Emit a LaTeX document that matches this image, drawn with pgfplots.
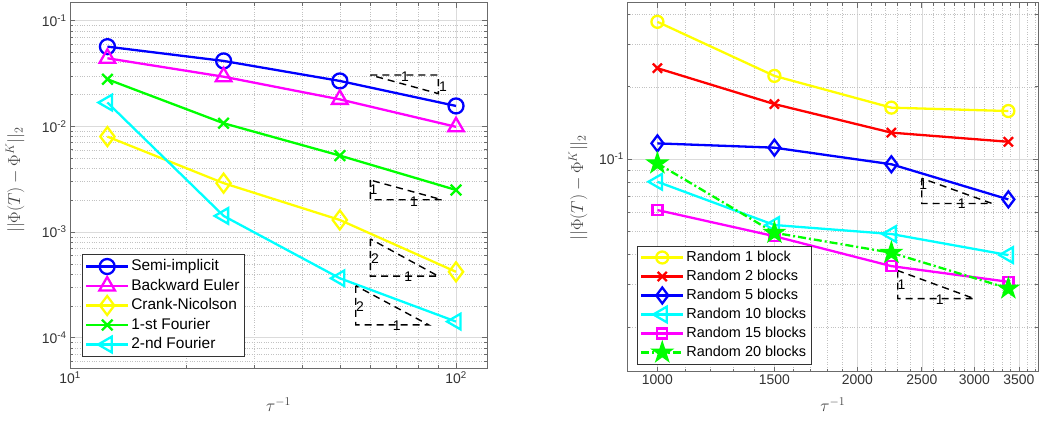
\documentclass[border=0pt]{standalone}
\usepackage{fontspec}
\setmainfont{Liberation Sans}
\usepackage{pgfplots}
\pgfplotsset{compat=1.18}
\usetikzlibrary{plotmarks}

\pgfdeclareplotmark{pstar}{%
  \pgfpathmoveto{\pgfqpointpolar{90}{\pgfplotmarksize}}%
  \pgfpathlineto{\pgfqpointpolar{126}{0.382\pgfplotmarksize}}%
  \pgfpathlineto{\pgfqpointpolar{162}{\pgfplotmarksize}}%
  \pgfpathlineto{\pgfqpointpolar{198}{0.382\pgfplotmarksize}}%
  \pgfpathlineto{\pgfqpointpolar{234}{\pgfplotmarksize}}%
  \pgfpathlineto{\pgfqpointpolar{270}{0.382\pgfplotmarksize}}%
  \pgfpathlineto{\pgfqpointpolar{306}{\pgfplotmarksize}}%
  \pgfpathlineto{\pgfqpointpolar{342}{0.382\pgfplotmarksize}}%
  \pgfpathlineto{\pgfqpointpolar{18}{\pgfplotmarksize}}%
  \pgfpathlineto{\pgfqpointpolar{54}{0.382\pgfplotmarksize}}%
  \pgfpathclose
  \pgfusepathqfillstroke}

\definecolor{mblue}{rgb}{0,0,1}
\definecolor{mmag}{rgb}{1,0,1}
\definecolor{myel}{rgb}{1,1,0}
\definecolor{mgreen}{rgb}{0,1,0}
\definecolor{mcyan}{rgb}{0,1,1}
\definecolor{mred}{rgb}{1,0,0}

\tikzset{
  triline/.style={black, line width=1.4bp, dash pattern=on 7bp off 5bp},
  slopelab/.style={font=\fontsize{14}{16}\selectfont, text=black, inner sep=0pt},
  biglab/.style={font=\fontsize{17}{20}\selectfont, text=black!75},
}
\pgfplotsset{
  every axis/.append style={
    scale only axis, grid=both,
    major grid style={black!14, line width=0.5bp},
    minor grid style={black!24, dotted, line width=0.5bp},
    axis line style={black!58, line width=0.7bp},
    major tick length=5bp, minor tick length=3bp,
    tick label style={font=\fontsize{14}{16}\selectfont, text=black!80},
    legend cell align=left,
  },
  every tick/.append style={black!58, line width=0.6bp},
  legend image code/.code={\draw[mark repeat=2,mark phase=2] plot coordinates {(0bp,0bp) (21bp,0bp) (42bp,0bp)};},
}

\begin{document}
\begin{tikzpicture}
\useasboundingbox (0,0) rectangle (1040bp,421bp);

% ---------------- left axis ----------------
\begin{loglogaxis}[
  at={(70bp,52.7bp)}, anchor=south west, width=417bp, height=365.6bp,
  xmin=10, xmax=120.3, ymin=5.13e-5, ymax=0.148,
  xtick={10,100}, xticklabels={10\textsuperscript{1},10\textsuperscript{2}},
  minor xtick={20,30,40,50,60,70,80,90},
  ytick={1e-4,1e-3,1e-2,1e-1},
  yticklabels={10\textsuperscript{-4},10\textsuperscript{-3},10\textsuperscript{-2},10\textsuperscript{-1}},
  minor ytick={6e-5,7e-5,8e-5,9e-5,2e-4,3e-4,4e-4,5e-4,6e-4,7e-4,8e-4,9e-4,2e-3,3e-3,4e-3,5e-3,6e-3,7e-3,8e-3,9e-3,2e-2,3e-2,4e-2,5e-2,6e-2,7e-2,8e-2,9e-2},
  xlabel={$\tau^{-1}$}, ylabel={$||\Phi(T)-\Phi^K||_2$},
  xlabel style={biglab, at={(axis description cs:0.5,-0.1)}, anchor=center},
  ylabel style={biglab, at={(axis description cs:-0.132,0.515)}, anchor=center},
  legend style={at={(0.028,0.032)}, anchor=south west, draw=black!80, line width=0.7bp, fill=white,
    font=\fontsize{15.5}{17}\selectfont, row sep=0pt,
    nodes={inner sep=2bp, text height=12bp, text depth=3.5bp}},
]
\addplot[line width=2.3bp, mblue, mark=o, mark size=7.5bp] coordinates {(12.5,0.0568) (25,0.0416) (50,0.0269) (100,0.0156)};
\addlegendentry{Semi-implicit}
\addplot[line width=2.3bp, mmag, mark=triangle, mark size=9bp] coordinates {(12.5,0.0441) (25,0.0295) (50,0.0180) (100,0.0099)};
\addlegendentry{Backward Euler}
\addplot[line width=2.3bp, myel, mark=diamond, mark size=9.5bp] coordinates {(12.5,0.0080) (25,0.0029) (50,0.0013) (100,0.00042)};
\addlegendentry{Crank-Nicolson}
\addplot[line width=2.3bp, mgreen, mark=x, mark size=7.5bp] coordinates {(12.5,0.0279) (25,0.0107) (50,0.00529) (100,0.0025)};
\addlegendentry{1-st Fourier}
\addplot[line width=2.3bp, mcyan, mark=triangle, mark size=9bp, mark options={rotate=90}] coordinates {(12.5,0.0168) (25,0.00142) (50,0.000365) (100,0.000142)};
\addlegendentry{2-nd Fourier}

\addplot[triline, forget plot, mark=none] coordinates {(60,0.0306) (90,0.0306) (90,0.0204) (60,0.0306)};
\addplot[triline, forget plot, mark=none] coordinates {(60,0.0031) (60,0.00202) (92,0.00202) (60,0.0031)};
\addplot[triline, forget plot, mark=none] coordinates {(60,8.6e-4) (60,3.82e-4) (90,3.82e-4) (60,8.6e-4)};
\addplot[triline, forget plot, mark=none] coordinates {(55,3.1e-4) (55,1.32e-4) (85,1.32e-4) (55,3.1e-4)};
\node[slopelab] at (axis cs:73.8,0.0293) {1};
\node[slopelab] at (axis cs:92.5,0.0238) {1};
\node[slopelab] at (axis cs:61.1,0.0025) {1};
\node[slopelab] at (axis cs:77.8,0.00194) {1};
\node[slopelab] at (axis cs:61.7,5.65e-4) {2};
\node[slopelab] at (axis cs:75.2,3.79e-4) {1};
\node[slopelab] at (axis cs:56.4,1.97e-4) {2};
\node[slopelab] at (axis cs:70.2,1.29e-4) {1};
\end{loglogaxis}

% ---------------- right axis ----------------
\begin{loglogaxis}[
  at={(627.3bp,49.3bp)}, anchor=south west, width=411bp, height=369bp,
  xmin=901, xmax=3745, ymin=0.0130, ymax=0.448,
  xtick={1000,1500,2000,2500,3000,3500},
  xticklabels={1000,1500,2000,2500,3000,3500},
  minor xtick={1100,1200,1300,1400,1600,1700,1800,1900,2100,2200,2300,2400,2600,2700,2800,2900,3100,3200,3300,3400,3600,3700},
  ytick={0.1}, yticklabels={10\textsuperscript{-1}},
  minor ytick={0.02,0.03,0.04,0.05,0.06,0.07,0.08,0.09,0.2,0.3,0.4},
  xlabel={$\tau^{-1}$}, ylabel={$||\Phi(T)-\Phi^K||_2$},
  xlabel style={biglab, at={(axis description cs:0.5,-0.09)}, anchor=center},
  ylabel style={biglab, at={(axis description cs:-0.12,0.499)}, anchor=center},
  legend style={at={(0.023,0.02)}, anchor=south west, draw=black!80, line width=0.7bp, fill=white,
    font=\fontsize{14.5}{16}\selectfont, row sep=0pt,
    nodes={inner sep=2bp, text height=11.5bp, text depth=3.5bp}},
]
\addplot[line width=2.3bp, myel, mark=o, mark size=6bp] coordinates {(1000,0.373) (1500,0.222) (2250,0.1637) (3375,0.1585)};
\addlegendentry{Random 1 block}
\addplot[line width=2.3bp, mred, mark=x, mark size=6.5bp] coordinates {(1000,0.239) (1500,0.1694) (2250,0.1288) (3375,0.118)};
\addlegendentry{Random 2 blocks}
\addplot[line width=2.3bp, mblue, mark=diamond, mark size=8bp] coordinates {(1000,0.1162) (1500,0.1115) (2250,0.0951) (3375,0.0679)};
\addlegendentry{Random 5 blocks}
\addplot[line width=2.3bp, mcyan, mark=triangle, mark size=9bp, mark options={rotate=90}] coordinates {(1000,0.0804) (1500,0.0531) (2250,0.0487) (3375,0.0398)};
\addlegendentry{Random 10 blocks}
\addplot[line width=2.3bp, mmag, mark=square, mark size=5bp] coordinates {(1000,0.0613) (1500,0.0477) (2250,0.0358) (3375,0.0308)};
\addlegendentry{Random 15 blocks}
\addplot[mgreen, line width=2.3bp, dash pattern=on 8bp off 3bp on 2bp off 3bp, mark=pstar, mark size=9bp, mark options={solid, fill=mgreen}] coordinates {(1000,0.0959) (1500,0.0493) (2250,0.0407) (3375,0.0289)};
\addlegendentry{Random 20 blocks}

\addplot[triline, forget plot, mark=none] coordinates {(2500,0.0831) (2500,0.0653) (3190,0.0653) (2500,0.0831)};
\addplot[triline, forget plot, mark=none] coordinates {(2300,0.0343) (2300,0.0262) (3000,0.0262) (2300,0.0343)};
\node[slopelab] at (axis cs:2512,0.0779) {1};
\node[slopelab] at (axis cs:2871,0.0653) {1};
\node[slopelab] at (axis cs:2331,0.0299) {1};
\node[slopelab] at (axis cs:2661,0.0259) {1};
\end{loglogaxis}
\end{tikzpicture}
\end{document}
